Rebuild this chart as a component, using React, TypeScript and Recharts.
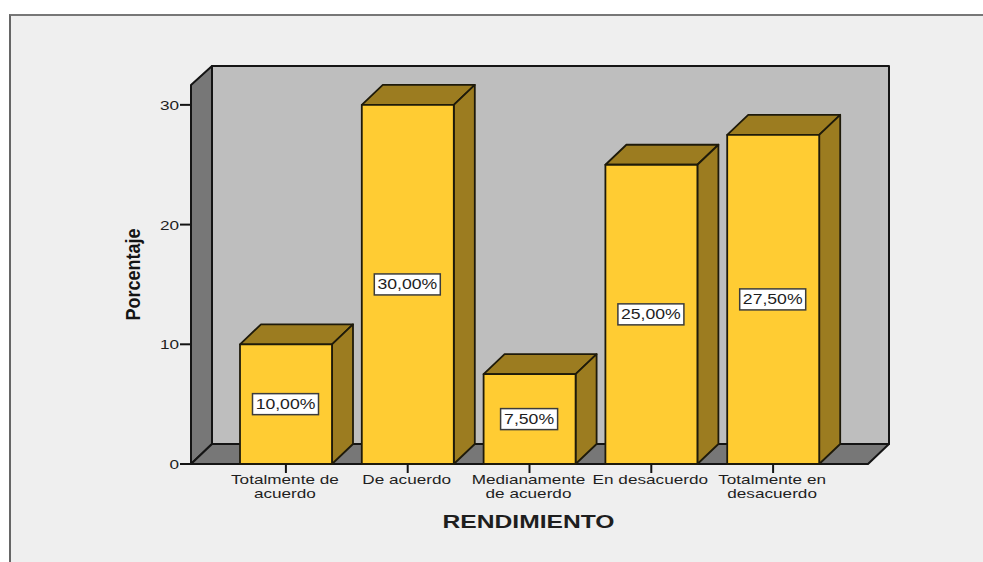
import React from 'react'
import {
  Bar,
  BarChart,
  LabelList,
  ReferenceArea,
  XAxis,
  YAxis
} from 'recharts'

const categories = [
  'Totalmente de\nacuerdo',
  'De acuerdo',
  'Medianamente\nde acuerdo',
  'En desacuerdo',
  'Totalmente en\ndesacuerdo'
]
const percentages = [10, 30, 7.5, 25, 27.5]
const yTicks = [0, 10, 20, 30]
const yMax = 31.66

const chartData = categories.map((name, index) => ({
  name,
  value: percentages[index]
}))

const depthX = 21
const depthY = 20
const xPadding = 34
const edge = '#141414'
const fontFamily = '"Liberation Sans", Arial, sans-serif'

const StretchedText = (props: any): JSX.Element => {
  const { x, y, stretch = 1.32, size = 13, weight = 'normal', anchor = 'middle', children } = props
  return (
    <text
      transform={`translate(${x},${y}) scale(${stretch},1)`}
      fontFamily={fontFamily}
      fontSize={size}
      fontWeight={weight}
      textAnchor={anchor}
      fill="#1e1e1e"
    >
      {children}
    </text>
  )
}

// the reference area only covers the padded band range, so widen it back to the axis ends
const Walls = (props: any): JSX.Element => {
  const { y, height } = props
  const x = props.x - xPadding
  const width = props.width + xPadding * 2
  const right = x + width
  const bottom = y + height
  return (
    <g stroke={edge} strokeWidth={2} strokeLinejoin="round">
      <rect
        x={x + depthX}
        y={y - depthY + 1}
        width={width}
        height={height - 1}
        fill="#bebebe"
      />
      <polygon
        points={`${x},${y} ${x + depthX},${y - depthY + 1} ${x + depthX},${bottom - depthY} ${x},${bottom}`}
        fill="#777777"
      />
      <polygon
        points={`${x},${bottom} ${x + depthX},${bottom - depthY} ${right + depthX},${bottom - depthY} ${right},${bottom}`}
        fill="#777777"
      />
    </g>
  )
}

const Bar3D = (props: any): JSX.Element => {
  const { x, y, width, height } = props
  const right = x + width
  const bottom = y + height
  return (
    <g stroke="#1e1a0a" strokeWidth={1.8} strokeLinejoin="round">
      <polygon
        points={`${x},${y} ${x + depthX},${y - depthY} ${right + depthX},${y - depthY} ${right},${y}`}
        fill="#9c7c20"
      />
      <polygon
        points={`${right},${y} ${right + depthX},${y - depthY} ${right + depthX},${bottom - depthY} ${right},${bottom}`}
        fill="#9c7c20"
      />
      <rect x={x} y={y} width={width} height={height} fill="#ffcc33" />
    </g>
  )
}

const ValueLabel = (props: any): JSX.Element => {
  const { x, y, width, height, value } = props
  const cx = x + width / 2 - 0.5
  const cy = y + height / 2
  const text = `${value.toFixed(2).replace('.', ',')}%`
  const boxWidth = 12 + 9 * text.length
  return (
    <g>
      <rect
        x={cx - boxWidth / 2}
        y={cy - 10.5}
        width={boxWidth}
        height={21}
        fill="#ffffff"
        stroke="#3c3c3c"
        strokeWidth={1.5}
      />
      <StretchedText x={cx} y={cy + 5} size={14} stretch={1.26}>
        {text}
      </StretchedText>
    </g>
  )
}

const CategoryTick = (props: any): JSX.Element => {
  const { x, y, payload } = props
  const lines: string[] = payload.value.split('\n')
  return (
    <g>
      {lines.map((line, index) => (
        <StretchedText key={index} x={x - 1} y={y + 9 + index * 13.5}>
          {line}
        </StretchedText>
      ))}
    </g>
  )
}

const ValueTick = (props: any): JSX.Element => {
  const { x, y, payload } = props
  return (
    <StretchedText x={x} y={y + 5} anchor="end">
      {payload.value}
    </StretchedText>
  )
}

const XTitle = (props: any): JSX.Element => {
  const { viewBox } = props
  return (
    <StretchedText
      x={viewBox.x + viewBox.width / 2 - 1}
      y={viewBox.y + 64}
      size={18}
      weight="bold"
      stretch={1.37}
    >
      RENDIMIENTO
    </StretchedText>
  )
}

const YTitle = (): JSX.Element => (
  <text
    transform="translate(140,274.5) rotate(-90) scale(1,1.15)"
    fontFamily={fontFamily}
    fontSize={18}
    fontWeight="bold"
    textAnchor="middle"
    fill="#141414"
  >
    Porcentaje
  </text>
)

export default function App(): JSX.Element {
  return (
    <div style={{ position: 'absolute', left: 0, top: 0, width: 983, height: 562, background: '#ffffff', overflow: 'hidden' }}>
      <div
        style={{
          position: 'absolute',
          left: 9,
          top: 14,
          width: 980,
          height: 560,
          background: '#efefef',
          borderLeft: '2px solid #666666',
          borderTop: '2px solid #777777'
        }}
      />
      <div style={{ position: 'absolute', left: 0, top: 0 }}>
        <BarChart
          width={983}
          height={562}
          data={chartData}
          margin={{ top: 85, right: 115, bottom: 48, left: 131 }}
        >
          <ReferenceArea yAxisId={0} y1={0} y2={yMax} shape={<Walls />} />
          <XAxis
            dataKey="name"
            height={50}
            interval={0}
            padding={{ left: xPadding, right: xPadding }}
            axisLine={false}
            tickSize={9}
            tickLine={{ stroke: edge, strokeWidth: 2 }}
            tick={<CategoryTick />}
            label={{ content: <XTitle /> }}
          />
          <YAxis
            width={60}
            domain={[0, yMax]}
            ticks={yTicks}
            axisLine={false}
            tickSize={11}
            tickMargin={1}
            tickLine={{ stroke: edge, strokeWidth: 2 }}
            tick={<ValueTick />}
            label={{ content: <YTitle /> }}
          />
          <Bar
            dataKey="value"
            barSize={92}
            isAnimationActive={false}
            shape={<Bar3D />}
          >
            <LabelList dataKey="value" content={<ValueLabel />} />
          </Bar>
        </BarChart>
      </div>
    </div>
  )
}
